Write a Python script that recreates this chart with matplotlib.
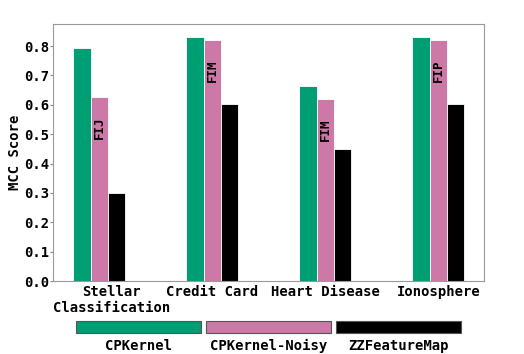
import matplotlib.pyplot as plt
import numpy as np
from matplotlib.patches import Rectangle
from matplotlib.transforms import ScaledTranslation

plt.rcParams['font.family'] = 'DejaVu Sans Mono'
plt.rcParams['font.weight'] = 'bold'

# Data
datasets = ['Stellar\nClassification', 'Credit Card', 'Heart Disease', 'Ionosphere']
methods = ['CPKernel', 'CPKernel-Noisy', 'ZZFeatureMap']
cpkernel = [0.792, 0.832, 0.664, 0.832]
cpkernel_noisy = [0.625, 0.820, 0.619, 0.820]
zzfeaturemap = [0.300, 0.603, 0.449, 0.603]
noisy_tags = ['FIJ', 'FIM', 'FIM', 'FIP']
colors = ['#009E73', '#CC79A7', '#000000']

fig = plt.figure(figsize=(5.24, 3.54), dpi=100)
ax = fig.add_axes([0.1011, 0.2062, 0.8226, 0.7260])

x = np.arange(len(datasets))
width = 0.153
series = [cpkernel, cpkernel_noisy, zzfeaturemap]
for i, (vals, c) in enumerate(zip(series, colors)):
    ax.bar(x + (i - 1) * width, vals, width, color=c, edgecolor='white', linewidth=0.6, label=methods[i])

# Annotations on the noisy bars
for xi, h, tag in zip(x, cpkernel_noisy, noisy_tags):
    ax.text(xi, h - 0.065, tag, rotation=90, ha='center', va='top', fontsize=9, fontweight='bold')

ax.set_xlim(-0.41, 3.405)
ax.set_ylim(0, 0.875)
ax.set_yticks(np.arange(0, 0.85, 0.1))
ax.set_yticklabels([f'{v:.1f}' for v in np.arange(0, 0.85, 0.1)], fontsize=10, fontweight='bold')
ax.set_xticks(x)
ax.set_xticklabels(datasets, fontsize=10, fontweight='bold')
ax.tick_params(axis='y', length=2, color='#888888', pad=0.5)
ax.tick_params(axis='x', length=0, pad=3)
ax.set_ylabel('MCC Score', fontsize=10, fontweight='bold', labelpad=1.5)
for s in ax.spines.values():
    s.set_color('#999999')

# shift first tick label a bit to the right
first = ax.get_xticklabels()[0]
first.set_transform(first.get_transform() + ScaledTranslation(12 / 100, 0, fig.dpi_scale_trans))

# Custom legend: long patches with labels underneath
W, H = 524.0, 354.0
patch_left = [76, 206, 336]
for i, (c, m) in enumerate(zip(colors, methods)):
    fig.add_artist(Rectangle((patch_left[i] / W, (H - 333.3) / H), 125 / W, 12.6 / H,
                             transform=fig.transFigure, facecolor=c, edgecolor='#555555', linewidth=0.8))
    fig.text((patch_left[i] + 62.5) / W, (H - 345.7) / H, m, ha='center', va='center',
             fontsize=10, fontweight='bold')

fig.savefig('out.png', dpi=100)
